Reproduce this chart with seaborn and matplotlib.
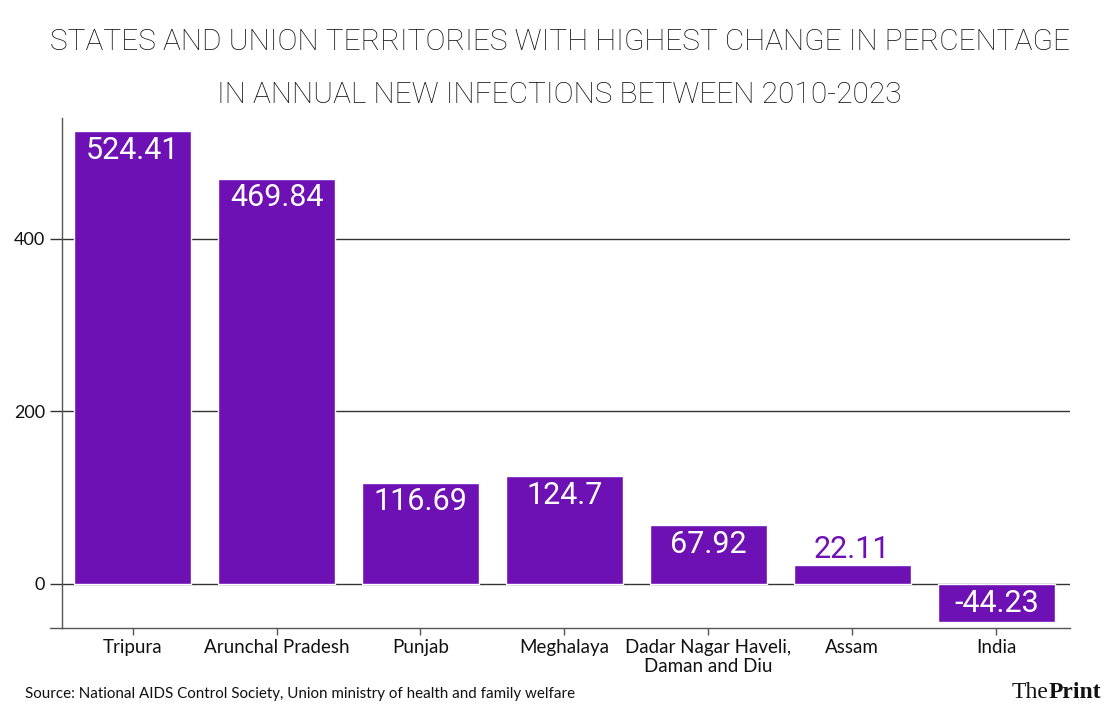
import matplotlib
matplotlib.use("Agg")
import matplotlib.pyplot as plt
import seaborn as sns
import pandas as pd

# data
regions = ["Tripura", "Arunchal Pradesh", "Punjab", "Meghalaya",
           "Dadar Nagar Haveli,\nDaman and Diu", "Assam", "India"]
change_pct = [524.41, 469.84, 116.69, 124.7, 67.92, 22.11, -44.23]
value_labels = ["524.41", "469.84", "116.69", "124.7", "67.92", "22.11", "-44.23"]
y_ticks = [0, 200, 400]

title_lines = ["STATES AND UNION TERRITORIES WITH HIGHEST CHANGE IN PERCENTAGE",
               "IN ANNUAL NEW INFECTIONS BETWEEN 2010-2023"]
source = "Source: National AIDS Control Society, Union ministry of health and family welfare"

bar_color = "#6d10b4"

df = pd.DataFrame({"region": regions, "change": change_pct})

sns.set_theme(style="white")
plt.rcParams["font.family"] = ["Lato", "DejaVu Sans"]

fig = plt.figure(figsize=(11.19, 7.15), dpi=100)
ax = fig.add_axes([0.0554, 0.1217, 0.9006, 0.7133])

sns.barplot(data=df, x="region", y="change", color=bar_color, saturation=1,
            width=0.81, ax=ax, zorder=3)

ax.set_xlim(-0.49, 6.51)
ax.set_ylim(-51, 540)
ax.set_yticks(y_ticks)
ax.set_xlabel("")
ax.set_ylabel("")

for y in y_ticks:
    ax.axhline(y, color="#333333", lw=1.0, zorder=2)

# value labels
for i, (v, lab) in enumerate(zip(change_pct, value_labels)):
    if v < 0:
        ax.annotate(lab, (i, v / 2), ha="center", va="center", color="white",
                    fontsize=22, family="Roboto", zorder=4)
    elif v < 40:
        ax.annotate(lab, (i, v), xytext=(0, 1), textcoords="offset points",
                    ha="center", va="bottom", color=bar_color,
                    fontsize=22, family="Roboto", zorder=4)
    else:
        ax.annotate(lab, (i, v), xytext=(0, -3), textcoords="offset points",
                    ha="center", va="top", color="white",
                    fontsize=22, family="Roboto", zorder=4)

for side in ["top", "right"]:
    ax.spines[side].set_visible(False)
for side in ["left", "bottom"]:
    ax.spines[side].set_color("#555555")
    ax.spines[side].set_linewidth(1.0)
# bottom rule sticks out a little to the left
ax.plot([-0.012, 0], [0, 0], transform=ax.transAxes, color="#555555",
        lw=1.0, clip_on=False)

ax.tick_params(axis="y", length=9, width=1, color="#333333", labelsize=13,
               labelcolor="#111111", pad=3, left=True)
ax.tick_params(axis="x", length=5, width=1, color="#555555", labelsize=13.5,
               labelcolor="#111111", pad=3, bottom=True)
for t in ax.get_xticklabels():
    t.set_linespacing(1.15)

for line, ypos in zip(title_lines, [0.941, 0.867]):
    fig.text(0.5, ypos, line, ha="center", va="center", fontsize=21.5,
             family="Roboto", fontweight="light", color="#111111")

fig.text(0.022, 0.03, source, ha="left", va="center", fontsize=10.9,
         color="#111111")
fig.text(0.937, 0.032, "The", ha="right", va="center", fontsize=17,
         family="Liberation Serif", color="#111111")
fig.text(0.937, 0.032, "Print", ha="left", va="center", fontsize=17,
         family="Liberation Serif", fontweight="bold", color="#111111")

fig.savefig("out.png", dpi=100, facecolor="white")
